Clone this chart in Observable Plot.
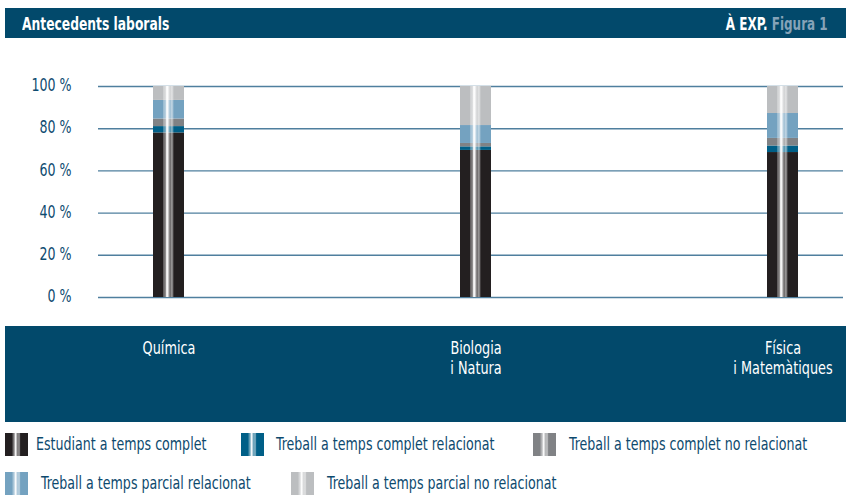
<!DOCTYPE html>
<html>
<head>
<meta charset="utf-8">
<script src="https://cdn.jsdelivr.net/npm/d3@7"></script>
<script src="https://cdn.jsdelivr.net/npm/@observablehq/plot@0.6"></script>
<style>
  html, body { margin: 0; padding: 0; background: #fff; }
  body { width: 848px; height: 495px; position: relative; overflow: hidden;
         font-family: "DejaVu Sans", sans-serif; font-stretch: condensed; }
  svg text { font-stretch: condensed; }
  #titlebar { position: absolute; left: 5px; top: 8px; width: 841px; height: 30px; background: #02496b;
              color: #fff; font-weight: bold; font-size: 18px; line-height: 30px; }
  #titlebar .l { position: absolute; left: 17px; top: 1px; transform: scaleX(0.76); transform-origin: left center; white-space: nowrap; }
  #titlebar .r { position: absolute; right: 18px; top: 1px; transform: scaleX(0.74); transform-origin: right center; white-space: nowrap; }
  #titlebar .r span { color: #86a3b8; }
  #band { position: absolute; left: 5px; top: 326px; width: 841px; height: 96px; background: #02496b; }
  #chart { position: absolute; left: 0; top: 40px; }
  .sw { position: absolute; width: 23px; height: 23px; }
  .lt { position: absolute; color: #0d4a6e; font-size: 18px; line-height: 23px; white-space: nowrap;
        transform: scaleX(0.78); transform-origin: left center; }
</style>
</head>
<body>
<div id="titlebar"><div class="l">Antecedents laborals</div><div class="r">À EXP. <span>Figura 1</span></div></div>
<div id="band"></div>
<div id="chart"></div>
<div id="legend"></div>
<script>
const categories = ["Química", "Biologia\ni Natura", "Física\ni Matemàtiques"];
const series = [
  "Estudiant a temps complet",
  "Treball a temps complet relacionat",
  "Treball a temps complet no relacionat",
  "Treball a temps parcial relacionat",
  "Treball a temps parcial no relacionat"
];
const colors = ["#231f20", "#005f87", "#808285", "#74a2c0", "#bcbec0"];
const quimica = [78.0, 3.0, 3.6, 8.8, 6.6];
const biologia = [69.7, 1.7, 1.6, 8.5, 18.5];
const fisica = [68.7, 3.1, 3.6, 11.8, 12.8];
const yTicks = [0, 20, 40, 60, 80, 100];

const valuesByCat = [quimica, biologia, fisica];
const data = [];
categories.forEach((c, i) => series.forEach((s, j) => data.push({cat: c, series: s, value: valuesByCat[i][j]})));
const totals = categories.map((c, i) => ({cat: c, total: d3.sum(valuesByCat[i])}));

const plot = Plot.plot({
  width: 848,
  height: 382,
  marginTop: 46,
  marginBottom: 125,
  marginLeft: 98,
  marginRight: 5,
  style: {background: "transparent", fontFamily: "'DejaVu Sans', sans-serif"},
  x: {domain: categories, range: [153, 798], paddingInner: 0.9, paddingOuter: 0, label: null},
  y: {domain: [0, 100], label: null},
  color: {domain: series, range: colors},
  marks: [
    Plot.ruleY(yTicks, {stroke: "#4f7f9e", strokeWidth: 1.4}),
    Plot.barY(data, {x: "cat", y: "value", fill: "series", order: series}),
    Plot.barY(totals, {x: "cat", y: "total", fill: "url(#shine)"}),
    Plot.axisY(yTicks, {tickSize: 0, tickPadding: 27, dy: -1, tickFormat: d => d + " %", fontSize: 18, fill: "#0e4b70"}),
    Plot.axisX({tickSize: 0, tickPadding: 42, fontSize: 17, fill: "#fff", lineHeight: 1.18})
  ]
});
d3.select(plot).insert("defs", ":first-child").html(`
  <linearGradient id="shine" x1="0" x2="1" y1="0" y2="0">
    <stop offset="0" stop-color="#fff" stop-opacity="0"/>
    <stop offset="0.31" stop-color="#fff" stop-opacity="0"/>
    <stop offset="0.34" stop-color="#fff" stop-opacity="0.3"/>
    <stop offset="0.40" stop-color="#fff" stop-opacity="0.45"/>
    <stop offset="0.44" stop-color="#fff" stop-opacity="0.95"/>
    <stop offset="0.48" stop-color="#fff" stop-opacity="0.95"/>
    <stop offset="0.52" stop-color="#fff" stop-opacity="0.5"/>
    <stop offset="0.57" stop-color="#fff" stop-opacity="0.35"/>
    <stop offset="0.61" stop-color="#fff" stop-opacity="0.6"/>
    <stop offset="0.66" stop-color="#fff" stop-opacity="0.15"/>
    <stop offset="0.68" stop-color="#fff" stop-opacity="0"/>
    <stop offset="1" stop-color="#fff" stop-opacity="0"/>
  </linearGradient>`);

// horizontally condense the axis labels (the reference uses a condensed face);
// the scale is appended after Plot's own translate, so the anchor point stays put
function condense(selector, s) {
  d3.select(plot).selectAll(selector).each(function() {
    const t = d3.select(this);
    const tr = t.attr("transform") || "";
    t.attr("transform", tr + ` scale(${s},1)`);
  });
}
condense('g[aria-label="y-axis tick label"] text', 0.78);
condense('g[aria-label="x-axis tick label"] text', 0.84);
document.getElementById("chart").appendChild(plot);

// legend
const swLeft = [5, 241, 533, 5, 291];
const txtLeft = [36, 276, 569, 41, 327];
const rowTop = [433, 433, 433, 472, 472];
const shineCss = "linear-gradient(90deg, rgba(255,255,255,0) 0%, rgba(255,255,255,0) 31%, rgba(255,255,255,0.3) 34%, rgba(255,255,255,0.45) 40%, rgba(255,255,255,0.95) 44%, rgba(255,255,255,0.95) 48%, rgba(255,255,255,0.5) 52%, rgba(255,255,255,0.35) 57%, rgba(255,255,255,0.6) 61%, rgba(255,255,255,0.15) 66%, rgba(255,255,255,0) 68%)";
const leg = d3.select("#legend");
series.forEach((s, i) => {
  leg.append("div").attr("class", "sw")
    .style("left", swLeft[i] + "px").style("top", rowTop[i] + "px")
    .style("background", shineCss + ", " + colors[i]);
  leg.append("div").attr("class", "lt")
    .style("left", txtLeft[i] + "px").style("top", (rowTop[i] - 1) + "px")
    .text(s);
});
</script>
</body>
</html>
